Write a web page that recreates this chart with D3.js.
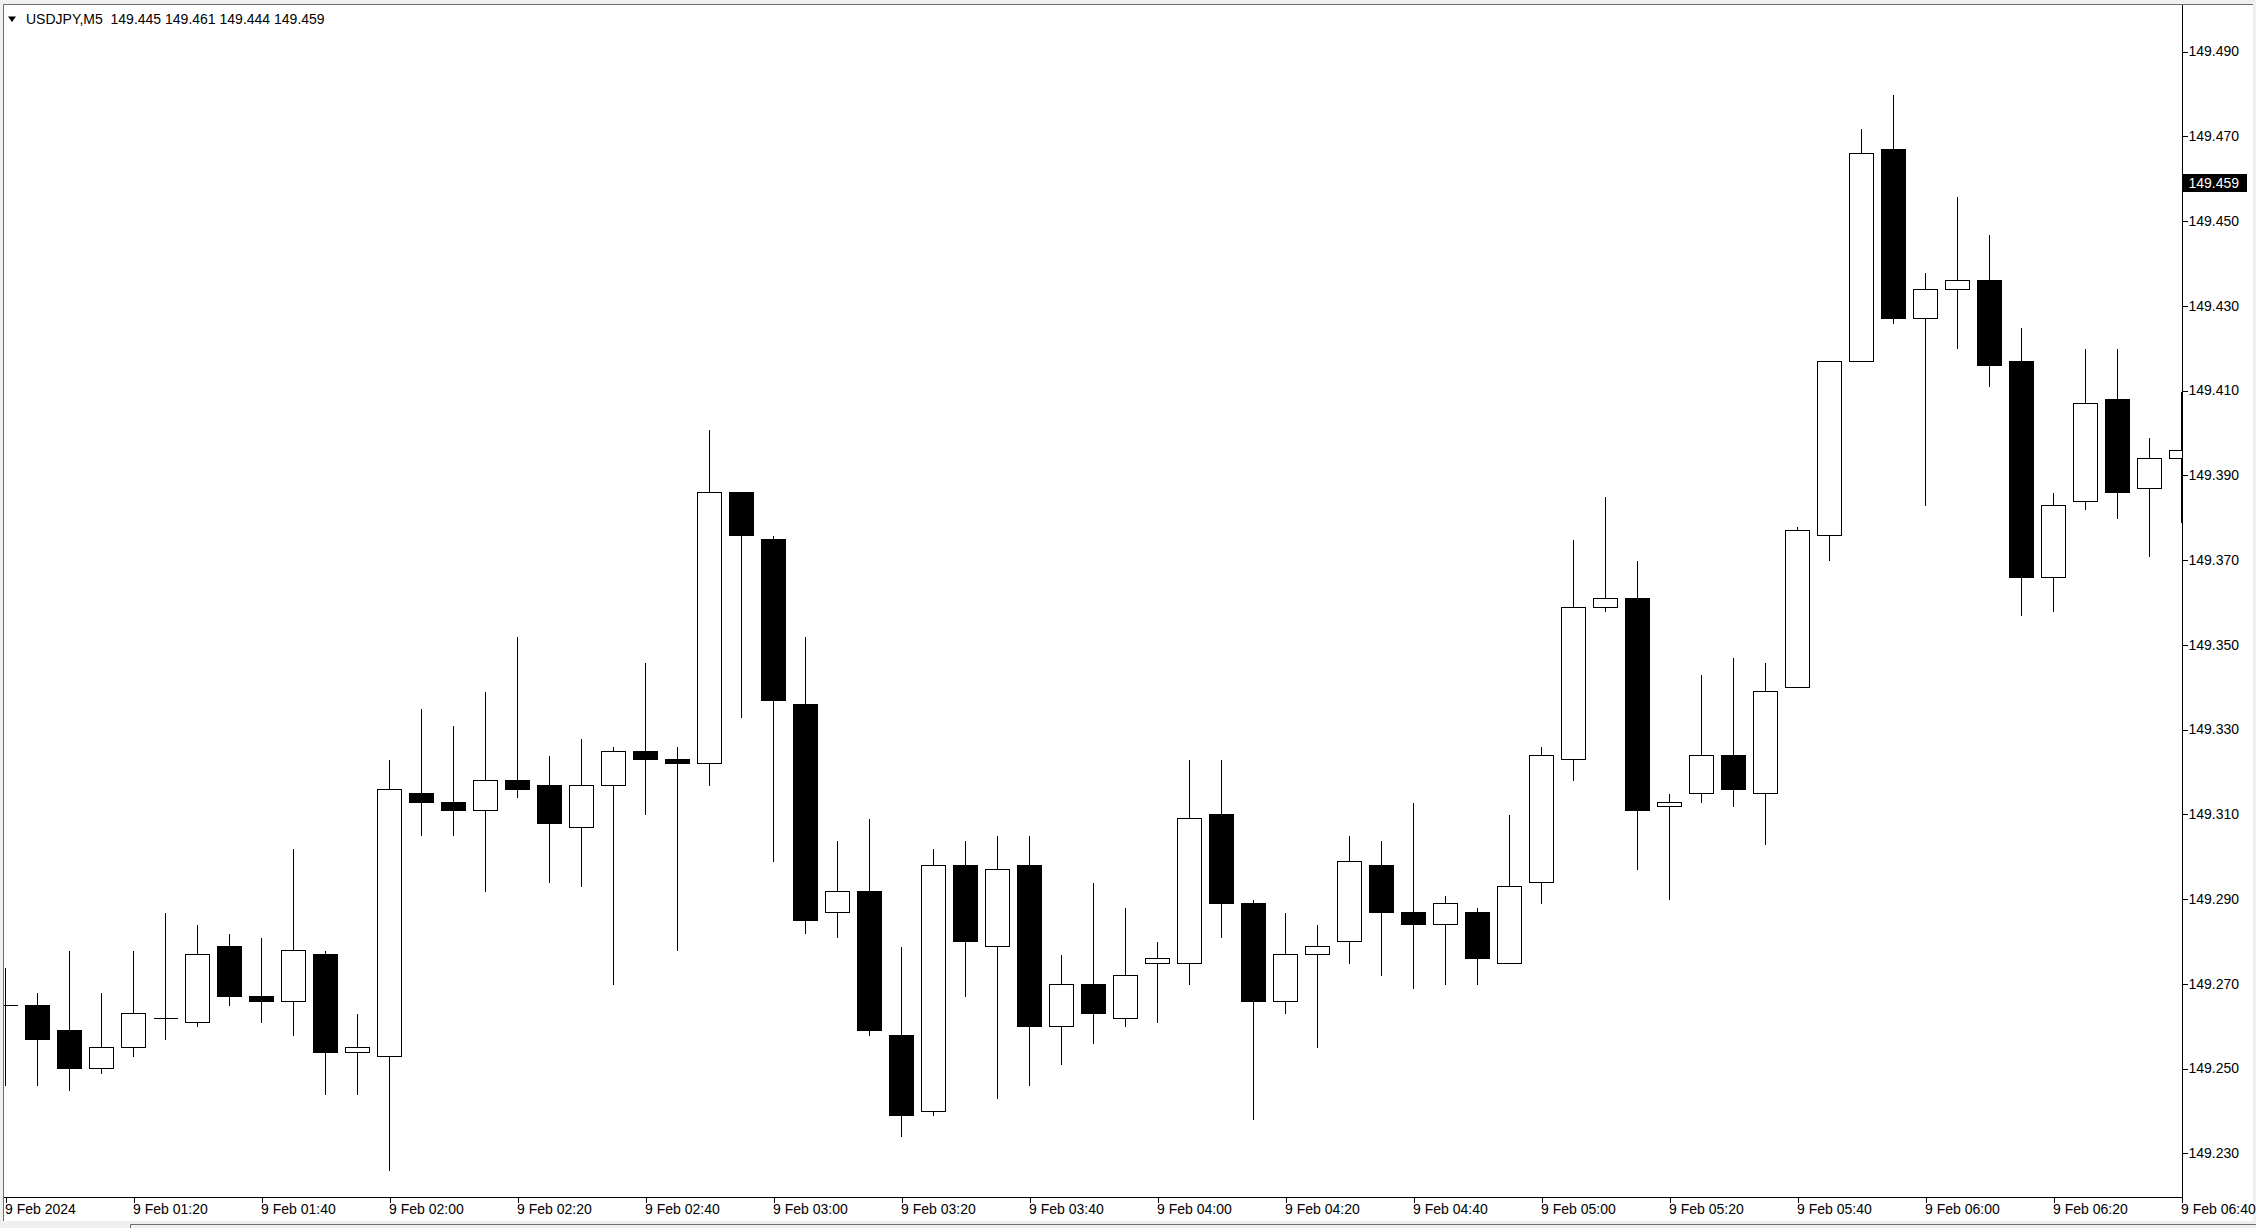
<!DOCTYPE html>
<html>
<head>
<meta charset="utf-8">
<script src="https://cdn.jsdelivr.net/npm/d3@7"></script>
<style>
  body { margin: 0; background: #f0f0f0; }
  svg { display: block; font-family: "Liberation Sans", Arial, sans-serif; }
</style>
</head>
<body>
<svg id="chart"></svg>
<script>
  // bar times (M5), 9 Feb 2024
  var times = ["01:00","01:05","01:10","01:15","01:20","01:25","01:30","01:35","01:40","01:45",
    "01:50","01:55","02:00","02:05","02:10","02:15","02:20","02:25","02:30","02:35",
    "02:40","02:45","02:50","02:55","03:00","03:05","03:10","03:15","03:20","03:25",
    "03:30","03:35","03:40","03:45","03:50","03:55","04:00","04:05","04:10","04:15",
    "04:20","04:25","04:30","04:35","04:40","04:45","04:50","04:55","05:00","05:05",
    "05:10","05:15","05:20","05:25","05:30","05:35","05:40","05:45","05:50","05:55",
    "06:00","06:05","06:10","06:15","06:20","06:25","06:30","06:35","06:40"];

  var opens = [149.265,149.265,149.259,149.250,149.255,149.262,149.261,149.279,149.267,149.266,
    149.277,149.254,149.253,149.315,149.313,149.311,149.318,149.317,149.307,149.317,
    149.325,149.323,149.322,149.386,149.375,149.336,149.287,149.292,149.258,149.240,
    149.298,149.279,149.298,149.260,149.270,149.262,149.275,149.275,149.310,149.289,
    149.266,149.277,149.280,149.298,149.287,149.284,149.287,149.275,149.294,149.323,
    149.359,149.361,149.312,149.315,149.324,149.315,149.340,149.376,149.417,149.467,
    149.427,149.434,149.436,149.417,149.366,149.384,149.408,149.387,149.394];

  var highs = [149.274,149.268,149.278,149.268,149.278,149.287,149.284,149.282,149.281,149.302,
    149.278,149.263,149.323,149.335,149.331,149.339,149.352,149.324,149.328,149.326,
    149.346,149.326,149.401,149.386,149.376,149.352,149.304,149.309,149.279,149.302,
    149.304,149.305,149.305,149.277,149.294,149.288,149.280,149.323,149.323,149.290,
    149.287,149.284,149.305,149.304,149.313,149.291,149.288,149.310,149.326,149.375,
    149.385,149.370,149.315,149.343,149.347,149.346,149.378,149.417,149.472,149.480,
    149.438,149.456,149.447,149.425,149.386,149.420,149.420,149.399,149.410];

  var lows = [149.246,149.246,149.245,149.249,149.253,149.257,149.260,149.265,149.261,149.258,
    149.244,149.244,149.226,149.305,149.305,149.292,149.314,149.294,149.293,149.270,
    149.310,149.278,149.317,149.333,149.299,149.282,149.281,149.258,149.234,149.239,
    149.267,149.243,149.246,149.251,149.256,149.260,149.261,149.270,149.281,149.238,
    149.263,149.255,149.275,149.272,149.269,149.270,149.270,149.275,149.289,149.318,
    149.358,149.297,149.290,149.313,149.312,149.303,149.340,149.370,149.417,149.426,
    149.383,149.420,149.411,149.357,149.358,149.382,149.380,149.371,149.379];

  var closes = [149.265,149.257,149.250,149.255,149.263,149.262,149.277,149.267,149.266,149.278,
    149.254,149.255,149.316,149.313,149.311,149.318,149.316,149.308,149.317,149.325,
    149.323,149.322,149.386,149.376,149.337,149.285,149.292,149.259,149.239,149.298,
    149.280,149.297,149.260,149.270,149.263,149.272,149.276,149.309,149.289,149.266,
    149.277,149.279,149.299,149.287,149.284,149.289,149.276,149.293,149.324,149.359,
    149.361,149.311,149.313,149.324,149.316,149.339,149.377,149.417,149.466,149.427,
    149.434,149.436,149.416,149.366,149.383,149.407,149.386,149.394,149.396];

  var priceTicks = [149.230,149.250,149.270,149.290,149.310,149.330,149.350,
    149.370,149.390,149.410,149.430,149.450,149.470,149.490];

  var timeTickValues = ["01:00","01:20","01:40","02:00","02:20","02:40","03:00","03:20","03:40",
    "04:00","04:20","04:40","05:00","05:20","05:40","06:00","06:20","06:40"];
  var timeTickLabels = ["9 Feb 2024","9 Feb 01:20","9 Feb 01:40","9 Feb 02:00","9 Feb 02:20",
    "9 Feb 02:40","9 Feb 03:00","9 Feb 03:20","9 Feb 03:40","9 Feb 04:00","9 Feb 04:20",
    "9 Feb 04:40","9 Feb 05:00","9 Feb 05:20","9 Feb 05:40","9 Feb 06:00","9 Feb 06:20","9 Feb 06:40"];

  var symbol = "USDJPY,M5";
  var lastBar = [149.445, 149.461, 149.444, 149.459];
  var lastPrice = 149.459;

  var W = 2256, H = 1228;
  var plot = { left: 4, top: 5, right: 2182, bottom: 1197 };
  var fmt = d3.format(".3f");

  var svg = d3.select("#chart").attr("width", W).attr("height", H);

  // window frame
  svg.append("rect").attr("width", W).attr("height", H).attr("fill", "#f0f0f0");
  svg.append("rect")
    .attr("x", plot.left).attr("y", plot.top)
    .attr("width", W - plot.left - 3).attr("height", 1221 - plot.top)
    .attr("fill", "#fff");
  svg.append("path")
    .attr("d", "M3.5,1221V4.5H2253")
    .attr("fill", "none").attr("stroke", "#6d6d6d").attr("stroke-width", 1);
  svg.append("path")
    .attr("d", "M130.5,1228V1224.5H2256")
    .attr("fill", "none").attr("stroke", "#6d6d6d").attr("stroke-width", 1);

  // scales
  var y = d3.scaleLinear().domain([149.230, 149.490]).range([1153.25, 51.5]);
  var x = d3.scalePoint().domain(times).range([5.5, 5.5 + 32 * (times.length - 1)]);

  function py(v) { return Math.round(y(v)) + 0.5; }

  svg.append("clipPath").attr("id", "plotClip")
    .append("rect")
    .attr("x", plot.left).attr("y", plot.top)
    .attr("width", plot.right - plot.left).attr("height", plot.bottom - plot.top);

  var bars = times.map(function(t, i) {
    return { t: t, o: opens[i], h: highs[i], l: lows[i], c: closes[i] };
  });

  var g = svg.append("g").attr("clip-path", "url(#plotClip)")
    .attr("shape-rendering", "crispEdges");

  // wicks
  g.selectAll("line.wick")
    .data(bars)
    .enter().append("line")
    .attr("class", "wick")
    .attr("x1", function(d) { return x(d.t); })
    .attr("x2", function(d) { return x(d.t); })
    .attr("y1", function(d) { return py(d.h); })
    .attr("y2", function(d) { return py(d.l); })
    .attr("stroke", "#000")
    .attr("stroke-width", 1);

  // bodies
  g.selectAll("rect.body")
    .data(bars.filter(function(d) { return py(d.o) !== py(d.c); }))
    .enter().append("rect")
    .attr("class", "body")
    .attr("x", function(d) { return x(d.t) - 12; })
    .attr("width", 24)
    .attr("y", function(d) { return Math.min(py(d.o), py(d.c)); })
    .attr("height", function(d) { return Math.abs(py(d.o) - py(d.c)); })
    .attr("fill", function(d) { return d.c >= d.o ? "#fff" : "#000"; })
    .attr("stroke", "#000")
    .attr("stroke-width", 1);

  // doji bars: flat line
  g.selectAll("line.doji")
    .data(bars.filter(function(d) { return py(d.o) === py(d.c); }))
    .enter().append("line")
    .attr("class", "doji")
    .attr("x1", function(d) { return x(d.t) - 12; })
    .attr("x2", function(d) { return x(d.t) + 12; })
    .attr("y1", function(d) { return py(d.c); })
    .attr("y2", function(d) { return py(d.c); })
    .attr("stroke", "#000")
    .attr("stroke-width", 1);

  // axis lines
  svg.append("path")
    .attr("d", "M" + (plot.right + 0.5) + "," + plot.top + "V" + (plot.bottom + 0.5) + "H" + plot.left)
    .attr("fill", "none").attr("stroke", "#000").attr("stroke-width", 1)
    .attr("shape-rendering", "crispEdges");

  // price axis
  var yAxis = svg.append("g")
    .attr("transform", "translate(" + (plot.right + 0.5) + ",0)")
    .call(d3.axisRight(y).tickValues(priceTicks).tickSize(5).tickFormat(fmt));
  yAxis.select(".domain").remove();
  yAxis.selectAll(".tick line").attr("shape-rendering", "crispEdges");
  yAxis.selectAll("text")
    .attr("x", 6)
    .style("font-family", "'Liberation Sans', Arial, sans-serif")
    .style("font-size", "14px")
    .attr("fill", "#000");

  // time axis
  var xAxis = svg.append("g")
    .attr("transform", "translate(0," + (plot.bottom + 0.5) + ")")
    .call(d3.axisBottom(x).tickValues(timeTickValues).tickSize(5)
      .tickFormat(function(d, i) { return timeTickLabels[i]; }));
  xAxis.select(".domain").remove();
  xAxis.selectAll(".tick line").attr("shape-rendering", "crispEdges");
  xAxis.selectAll("text")
    .attr("text-anchor", "start")
    .attr("x", -1)
    .attr("y", 7)
    .style("font-family", "'Liberation Sans', Arial, sans-serif")
    .style("font-size", "14px")
    .attr("fill", "#000");

  // current price marker
  var lp = y(lastPrice);
  svg.append("rect")
    .attr("x", plot.right + 1).attr("y", Math.round(lp) - 9)
    .attr("width", 64).attr("height", 18)
    .attr("fill", "#000");
  svg.append("text")
    .attr("x", plot.right + 6.5).attr("y", lp)
    .attr("dy", "0.35em")
    .attr("fill", "#fff")
    .style("font-size", "14px")
    .text(fmt(lastPrice));

  // header
  svg.append("path")
    .attr("d", "M8,16.5H16L12,22Z")
    .attr("fill", "#000");
  svg.append("text")
    .attr("x", 26).attr("y", 24)
    .style("font-size", "14px")
    .style("white-space", "pre")
    .attr("fill", "#000")
    .text(symbol + "  " + lastBar.map(fmt).join(" "));
</script>
</body>
</html>
